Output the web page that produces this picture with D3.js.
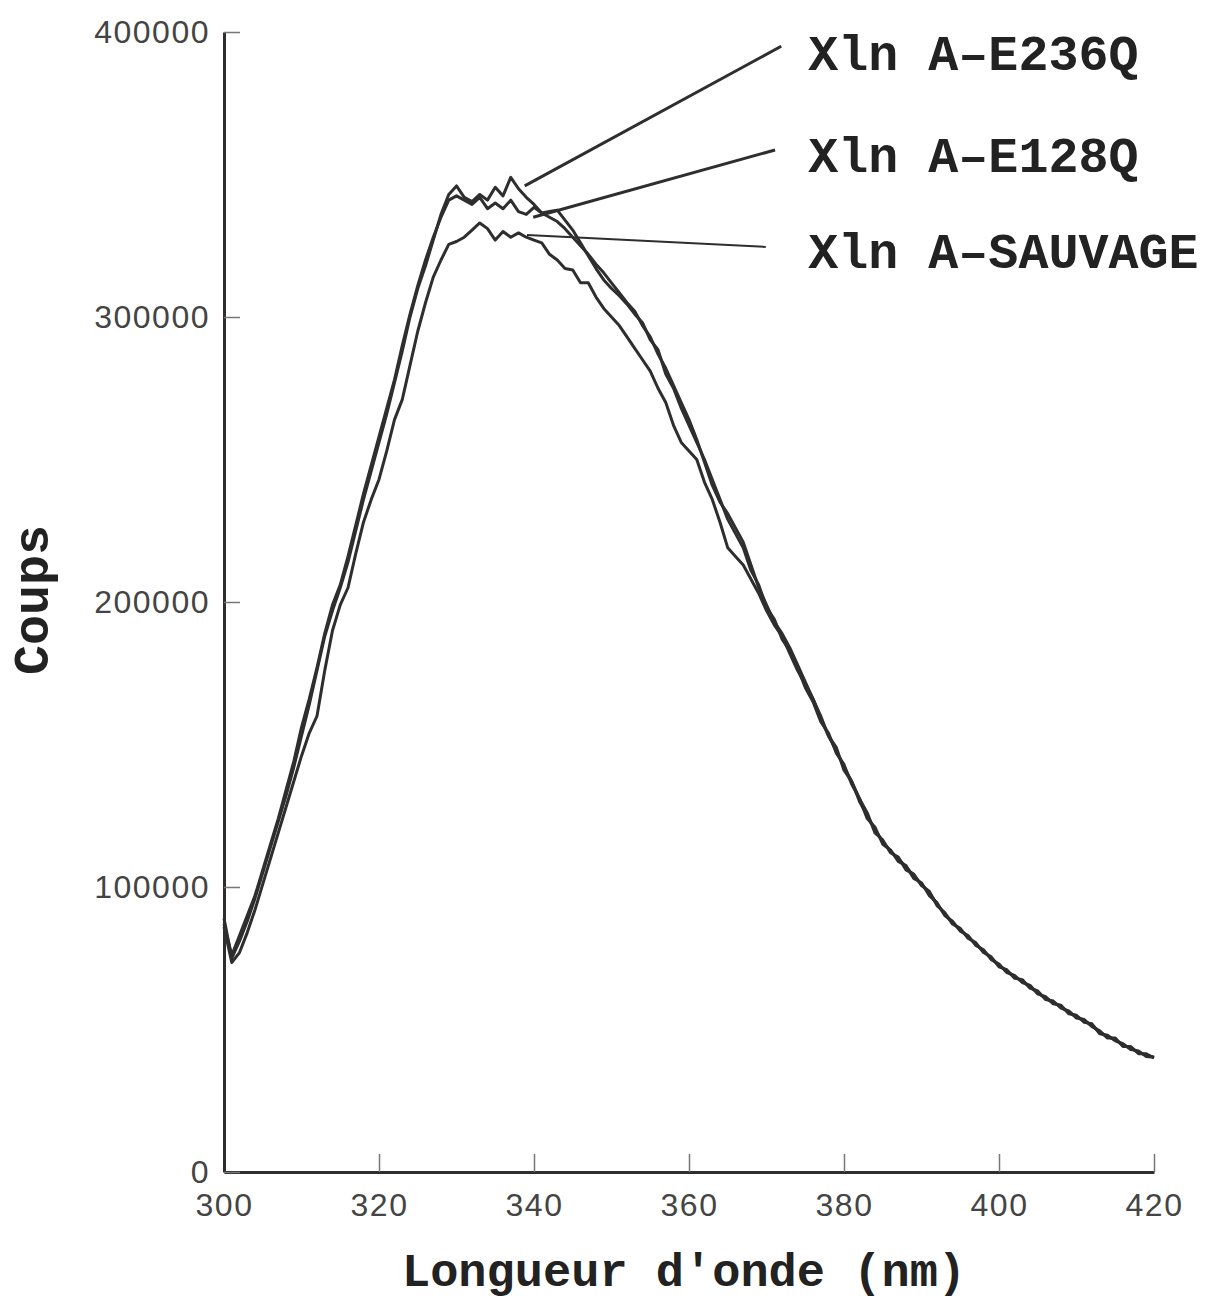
<!DOCTYPE html>
<html>
<head>
<meta charset="utf-8">
<script src="https://cdn.jsdelivr.net/npm/d3@7"></script>
<style>
  body { margin: 0; background: #fff; }
</style>
</head>
<body>
<svg id="chart" width="1208" height="1302"></svg>
<script>
// wavelength grid (nm), one reading per nm
const wavelengths = d3.range(300, 421);

// counts, in thousands
const e236q = [
  89, 75, 81, 88, 96, 105, 114, 123, 132, 142,
  153, 164, 176, 188, 197, 205, 214, 225, 236, 246,
  256, 266, 277, 288, 300, 310, 318, 327, 336, 343,
  346, 342, 340.5, 343, 341, 345.5, 342.5, 349, 345, 342,
  339.5, 336.5, 335, 333.5, 331, 328, 325, 322, 318.5, 315.5,
  312, 308.5, 305, 302, 297, 293, 287, 282, 276, 270,
  264, 257, 249, 241, 235, 231, 226, 221, 213, 205,
  199, 193, 189, 184, 178, 172, 166, 159, 153, 148,
  142, 137, 130, 125, 120, 116, 112.5, 110, 107, 104,
  101, 98, 94, 90.5, 87.5, 85, 82.5, 80, 77.5, 75,
  72.5, 70.5, 68.5, 67, 65, 63, 61, 59.5, 58, 56,
  54.5, 53, 51.5, 49, 47.5, 46.5, 44.5, 43.5, 42, 41,
  40.3
];
const e128q = [
  87, 76, 83, 90, 97, 106, 115, 124, 134, 144,
  156, 166, 177, 189, 199, 206, 216, 227, 238, 248,
  258, 268, 278, 290, 301, 311, 320, 328, 335, 341,
  342.5, 341, 339.5, 342, 338, 340, 338, 341, 337, 336,
  338.5, 336.5, 337, 337.5, 334, 330.5, 326, 321.5, 317, 313,
  310, 307.5, 304.5, 301, 298, 292, 288.5, 280, 275, 268,
  262, 256, 250, 243, 236, 229, 224, 219, 211, 206,
  198, 194, 187, 183, 177, 170, 165, 158, 154, 147,
  143, 136, 131, 124, 121, 115, 113, 109, 107.5, 103,
  101.5, 97, 94.5, 90, 88, 84.5, 83, 79.5, 78, 74.5,
  73, 70, 69, 66.5, 65.5, 62.5, 61.5, 59, 58.5, 55.5,
  55, 52.5, 52, 48.5, 48, 46, 45, 43, 42.5, 40.5,
  40.3
];
const sauvage = [
  86, 73.5, 77, 84, 92, 101, 110, 119, 128, 137,
  146, 154, 160, 176, 190, 199, 205, 217, 228, 236,
  243, 253, 264, 271, 283, 295, 305, 314, 320, 325.5,
  326.5, 328, 330.5, 333, 331, 327, 330, 328, 329.5, 328,
  327, 326, 322, 320, 317, 316.5, 312, 312, 307, 303,
  300, 297, 293, 289, 285, 281, 275, 270, 262, 256,
  253, 250, 242, 236, 228, 219, 216, 213, 208, 203,
  197, 192, 188, 182, 176, 171, 166, 160, 153, 149,
  141, 137, 131, 126, 119, 116.5, 112, 110.5, 106, 104.5,
  100.5, 98.5, 93.5, 91, 87, 85.5, 82, 80.5, 77, 75.5,
  72, 71, 68, 67.5, 64.5, 63.5, 60.5, 60, 57.5, 56.5,
  54, 53.5, 51, 49.5, 47, 47, 44, 44, 41.5, 41.5,
  40
];

const seriesNames = ["Xln A\u2013E236Q", "Xln A\u2013E128Q", "Xln A\u2013SAUVAGE"];
const seriesValues = [e236q, e128q, sauvage];

// leader lines: from a point on the curve to the label, in data units (nm, thousands)
const leaderFrom = [[338.8, 346], [339.9, 335], [339.1, 328.8]];
const leaderTo = [[371.9, 395], [371.1, 358.6], [369.9, 324.6]];
const labelAt = [[375.4, 386.7], [375.4, 350.9], [375.4, 317.2]];

const xTicks = [300, 320, 340, 360, 380, 400, 420];
const yTicks = [0, 100, 200, 300, 400];

const svg = d3.select("#chart");

const x = d3.scaleLinear().domain([300, 420]).range([224, 1154]);
const y = d3.scaleLinear().domain([0, 400]).range([1172, 32]);

const ink = "#2e2e2e";
const tickFont = "'Liberation Sans', Arial, sans-serif";
const titleFont = "'Liberation Mono', 'Courier New', monospace";

// x axis
const xAxis = svg.append("g")
    .attr("transform", "translate(0," + y(0) + ")")
    .call(d3.axisBottom(x).tickValues(xTicks).tickSize(-18).tickSizeOuter(0).tickPadding(31));
xAxis.select(".domain").attr("stroke", ink).attr("stroke-width", 3);
xAxis.selectAll(".tick line").attr("stroke", "#777").attr("stroke-width", 1.5);
xAxis.selectAll(".tick text")
    .attr("font-family", tickFont)
    .attr("font-size", 32)
    .attr("letter-spacing", 1.5)
    .attr("fill", "#444")
    .attr("dy", "0.4em");

// y axis
const yAxis = svg.append("g")
    .attr("transform", "translate(" + x(300) + ",0)")
    .call(d3.axisLeft(y).tickValues(yTicks).tickSize(-16).tickSizeOuter(0).tickPadding(14)
        .tickFormat(d => String(d * 1000)));
yAxis.select(".domain").attr("stroke", ink).attr("stroke-width", 3);
yAxis.selectAll(".tick line").attr("stroke", "#777").attr("stroke-width", 1.5);
yAxis.selectAll(".tick text")
    .attr("font-family", tickFont)
    .attr("font-size", 32)
    .attr("letter-spacing", 1.5)
    .attr("fill", "#444");

// curves
const line = d3.line()
    .x((d, i) => x(wavelengths[i]))
    .y(d => y(d));

svg.append("g").selectAll("path")
    .data(seriesValues)
    .enter().append("path")
    .attr("d", line)
    .attr("fill", "none")
    .attr("stroke", ink)
    .attr("stroke-width", 3)
    .attr("stroke-linejoin", "round");

// leader lines
svg.append("g").selectAll("line")
    .data(leaderFrom)
    .enter().append("line")
    .attr("x1", d => x(d[0]))
    .attr("y1", d => y(d[1]))
    .attr("x2", (d, i) => x(leaderTo[i][0]))
    .attr("y2", (d, i) => y(leaderTo[i][1]))
    .attr("stroke", ink)
    .attr("stroke-width", (d, i) => i == 2 ? 2 : 3);

// labels
svg.append("g").selectAll("text")
    .data(seriesNames)
    .enter().append("text")
    .attr("x", (d, i) => x(labelAt[i][0]))
    .attr("y", (d, i) => y(labelAt[i][1]))
    .attr("font-family", titleFont)
    .attr("font-weight", "bold")
    .attr("font-size", 50)
    .attr("fill", "#222")
    .text(d => d);

// axis titles
svg.append("text")
    .attr("x", 684)
    .attr("y", 1286)
    .attr("text-anchor", "middle")
    .attr("font-family", titleFont)
    .attr("font-weight", "bold")
    .attr("font-size", 47)
    .attr("fill", "#222")
    .text("Longueur d'onde (nm)");

svg.append("text")
    .attr("transform", "translate(48,600) rotate(-90)")
    .attr("text-anchor", "middle")
    .attr("font-family", titleFont)
    .attr("font-weight", "bold")
    .attr("font-size", 50)
    .attr("fill", "#222")
    .text("Coups");
</script>
</body>
</html>
